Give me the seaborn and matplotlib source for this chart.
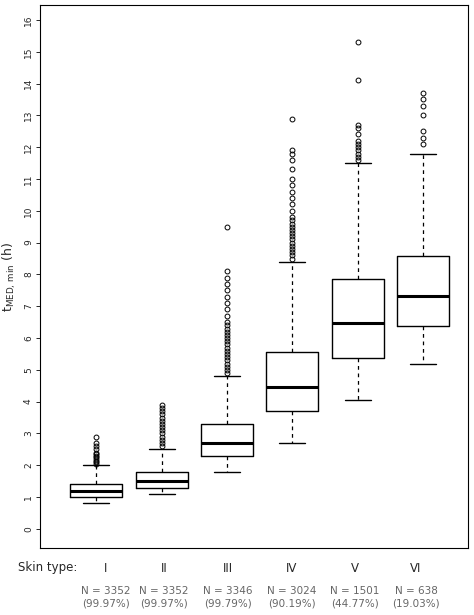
import matplotlib
matplotlib.use("Agg")
import matplotlib.pyplot as plt
import seaborn as sns

skin_types = ["I", "II", "III", "IV", "V", "VI"]
n_labels = ["N = 3352", "N = 3352", "N = 3346", "N = 3024", "N = 1501", "N = 638"]
pct_labels = ["(99.97%)", "(99.97%)", "(99.79%)", "(90.19%)", "(44.77%)", "(19.03%)"]
whislo = [0.8, 1.1, 1.8, 2.7, 4.06, 5.19]
q1 = [1.0, 1.3, 2.3, 3.7, 5.38, 6.38]
med = [1.2, 1.5, 2.7, 4.47, 6.48, 7.33]
q3 = [1.4, 1.8, 3.3, 5.57, 7.86, 8.58]
whishi = [2.0, 2.5, 4.8, 8.4, 11.5, 11.8]
fliers = [
    [2.05, 2.1, 2.15, 2.2, 2.25, 2.3, 2.35, 2.4, 2.5, 2.6, 2.7, 2.9],
    [2.6, 2.7, 2.8, 2.9, 3.0, 3.1, 3.2, 3.3, 3.4, 3.5, 3.6, 3.7, 3.8, 3.9],
    [4.9, 5.0, 5.1, 5.2, 5.3, 5.4, 5.5, 5.6, 5.7, 5.8, 5.9, 6.0, 6.1, 6.2, 6.3, 6.4, 6.5,
     6.7, 6.9, 7.1, 7.3, 7.5, 7.7, 7.9, 8.1, 9.5],
    [8.5, 8.6, 8.7, 8.8, 8.9, 9.0, 9.1, 9.2, 9.3, 9.4, 9.5, 9.6, 9.7, 9.8, 10.0, 10.2,
     10.4, 10.6, 10.8, 11.0, 11.3, 11.6, 11.8, 11.9, 12.9],
    [11.6, 11.7, 11.8, 11.9, 12.0, 12.1, 12.2, 12.4, 12.6, 12.7, 14.1, 15.3],
    [12.1, 12.3, 12.5, 13.0, 13.3, 13.5, 13.7],
]

sns.set_style("white")
plt.rcParams['font.family'] = ['DejaVu Sans']

fig = plt.figure(figsize=(4.74, 6.15), dpi=100)
ax = fig.add_axes([40/474, 1-548/615, 428/474, 543/615])

positions = [96, 162, 227, 292, 358, 423]
label_x = [106, 164, 228, 292, 355, 416]
stats = []
for i in range(6):
    stats.append(dict(med=med[i], q1=q1[i], q3=q3[i], whislo=whislo[i],
                      whishi=whishi[i], fliers=fliers[i]))
ax.bxp(stats, positions=positions, widths=52, capwidths=26, showfliers=True,
       boxprops=dict(color="black", lw=1),
       medianprops=dict(color="black", lw=2.2),
       whiskerprops=dict(color="black", lw=0.9, linestyle=(0, (3, 3))),
       capprops=dict(color="black", lw=1),
       flierprops=dict(marker="o", markersize=3.5, markerfacecolor="none",
                       markeredgecolor="black", markeredgewidth=0.7))
ax.set_xlim(40, 468)
ax.set_ylim(-0.6, 16.47)
ax.set_yticks(range(0, 17))
ax.set_yticklabels([str(v) for v in range(0, 17)], rotation=90, va="center", fontsize=6.5)
ax.tick_params(axis="y", length=3, width=0.7, pad=2, left=True)
ax.set_xticks([])
for s in ax.spines.values():
    s.set_color("black")
    s.set_linewidth(0.8)
ax.set_ylabel(r"$\mathregular{t_{MED,\,min}}$ (h)", fontsize=9, labelpad=4)

fig.text(18/474, 1-568/615, "Skin type:", fontsize=8.5, va="center", ha="left")
for i in range(6):
    xf = label_x[i]/474
    fig.text(xf, 1-568/615, skin_types[i], fontsize=8.5, va="center", ha="center")
    fig.text(xf, 1-591/615, n_labels[i], fontsize=7.5, va="center", ha="center", color="#666666")
    fig.text(xf, 1-604/615, pct_labels[i], fontsize=7.5, va="center", ha="center", color="#666666")

fig.savefig("out.png", dpi=100)
